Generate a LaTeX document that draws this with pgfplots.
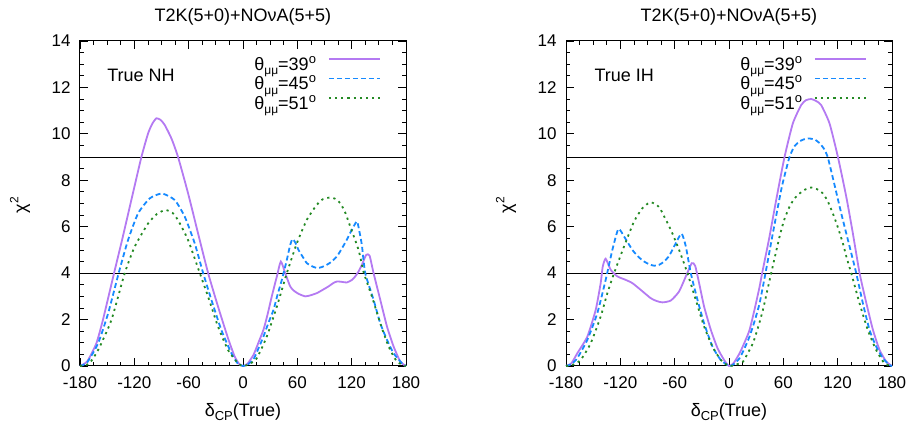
\documentclass[border=0pt]{standalone}
\usepackage{fontspec}
\setmainfont{Liberation Sans}
\usepackage{pgfplots}
\pgfplotsset{compat=1.18}

\definecolor{c39}{RGB}{180,122,242}
\definecolor{c45}{RGB}{22,138,255}
\definecolor{c51}{RGB}{36,138,36}

\newcommand{\thlab}[1]{θ\raisebox{-4.5pt}{\fontsize{12}{12}\selectfont μμ}=#1\raisebox{7pt}{\fontsize{13}{13}\selectfont o}}
\newcommand{\tfont}{\fontsize{17}{17}\selectfont}

\tikzset{txt/.style={inner sep=0pt, anchor=base west, font=\fontsize{18}{18}\selectfont}}

\pgfplotsset{
  chipanel/.style={
    width=326pt, height=325pt, scale only axis, clip=false,
    xmin=-180, xmax=180, ymin=0, ymax=14,
    xtick={-180,-120,...,180}, ytick={0,2,...,14},
    minor x tick num=3, minor y tick num=3,
    tick align=inside, tick pos=both,
    major tick length=8pt, minor tick length=4pt,
    every tick/.style={black, line width=0.8pt},
    axis line style={line width=1pt},
    /pgf/number format/assume math mode=true,
    xticklabel={\tfont\pgfmathprintnumber{\tick}},
    yticklabel={\tfont\pgfmathprintnumber{\tick}},
    yticklabel style={xshift=-6pt},
    xticklabel style={yshift=-7pt},
    xlabel={δ\raisebox{-4pt}{\fontsize{13}{13}\selectfont CP}(True)},
    xlabel style={at={(0.5,-0.154)}, anchor=base, font=\fontsize{18}{18}\selectfont},
    ylabel={χ\raisebox{8pt}{\fontsize{12}{12}\selectfont 2}},
    ylabel style={at={(-0.184,0.495)}, anchor=center, font=\fontsize{18}{18}\selectfont},
    legend plot pos=right,
    legend cell align=right,
    legend image code/.code={\draw[##1] (0pt,5pt) -- (51pt,5pt);},
    legend style={draw=none, fill=none, at={(0.9325,0.966)}, anchor=north east,
      font=\fontsize{18}{18}\selectfont, row sep=0pt,
      /tikz/every odd column/.append style={column sep=10pt}},
  },
  l39/.style={c39, line width=1.8pt, mark=none, smooth, tension=0.35},
  l45/.style={c45, line width=1.8pt, dash pattern=on 5pt off 3pt, mark=none, smooth, tension=0.35},
  l51/.style={c51, line width=1.8pt, dash pattern=on 2.2pt off 4pt, mark=none, smooth, tension=0.35},
  hline/.style={black, line width=1.1pt, mark=none, forget plot},
}

\begin{document}
\begin{tikzpicture}
\path[use as bounding box] (0,0) rectangle (916pt,425pt);

% ---- left panel: true NH
\begin{axis}[chipanel, at={(80pt,59pt)}, anchor=south west]
\addplot[hline] coordinates {(-180,4) (180,4)};
\addplot[hline] coordinates {(-180,9) (180,9)};
\addplot[l39] coordinates {
  (-180,0) (-172,0.2) (-162,0.97) (-154.6,2.0) (-142.4,4.0) (-133.6,5.42)
  (-123.3,7.15) (-112.2,9.0) (-104.8,10.02) (-100,10.45) (-95.6,10.67)
  (-91,10.6) (-86.4,10.38) (-79,9.8) (-71.7,9.0) (-60.6,7.43) (-49.6,5.71)
  (-38.5,4.0) (-27.5,2.55) (-16.4,1.18) (-9,0.39) (-4,0.08) (0,0)
  (5,0.1) (11.6,0.48) (17,1.0) (22.6,1.56) (27,2.2) (31.8,3.0) (37.4,3.86)
  (41.8,4.5) (46.6,4.0) (52.1,3.43) (56,3.25) (61.3,3.11) (68.7,3.0)
  (75,3.05) (81.6,3.14) (88,3.28) (94.5,3.43) (100,3.58) (103.7,3.64)
  (108,3.63) (114.7,3.6) (120,3.7) (124,3.86) (128,4.1) (131.3,4.36)
  (136.1,4.79) (139.8,4.75) (144.2,4.0) (151.6,2.85) (159,1.70)
  (166.3,0.84) (173.7,0.19) (180,0)
};
\addlegendentry{\thlab{39}}
\addplot[l45] coordinates {
  (-180,0) (-172,0.16) (-160.1,0.97) (-149,2.26) (-137.3,4.0) (-127,5.42)
  (-115.9,6.57) (-103,7.22) (-89.4,7.43) (-75.4,7.15) (-64.3,6.43)
  (-53.3,5.28) (-44,4.0) (-34.8,2.84) (-23.8,1.54) (-12.7,0.54) (-6,0.12)
  (0,0)
  (5,0.06) (11.6,0.29) (17,0.75) (22.6,1.27) (28,1.85) (33.7,2.42)
  (38,3.05) (42.9,3.71) (48.4,4.57) (52,5.2) (54.7,5.47) (58,5.3)
  (61.3,5.0) (66,4.7) (70.5,4.43) (76,4.3) (81.6,4.22) (87,4.26)
  (92.6,4.36) (98,4.5) (103.7,4.72) (109,5.05) (114.7,5.44) (120,5.85)
  (125.8,6.23) (128.5,5.8) (131.3,5.2) (135,4.0) (144.2,2.85)
  (151.6,1.84) (159,1.13) (166.3,0.55) (175.5,0.12) (180,0)
};
\addlegendentry{\thlab{45}}
\addplot[l51] coordinates {
  (-180,0) (-170,0.1) (-160.1,0.68) (-145.4,1.97) (-130.6,4.0)
  (-119.6,5.14) (-104.8,6.14) (-95,6.55) (-85.7,6.72) (-78,6.6)
  (-71.7,6.28) (-60.6,5.42) (-47.7,4.0) (-38.5,2.98) (-27.5,1.69)
  (-16.4,0.68) (-5.3,0.11) (0,0)
  (7,0.08) (15.3,0.34) (26.3,1.27) (37.4,2.56) (48.4,4.0) (59.5,5.29)
  (70.5,6.3) (81.6,6.95) (88,7.18) (96.3,7.26) (102,7.2) (107.4,7.02)
  (113,6.6) (118.4,6.01) (127.6,5.0) (133.5,4.0) (142.4,2.99)
  (151.6,1.84) (160.8,0.84) (170,0.19) (180,0)
};
\addlegendentry{\thlab{51}}
\node[txt] at (rel axis cs:0.083,0.875) {True NH};
\node[txt] at (rel axis cs:0.228,1.0615) {T2K(5+0)+NOνA(5+5)};
\end{axis}

% ---- right panel: true IH
\begin{axis}[chipanel, at={(566pt,59pt)}, anchor=south west]
\addplot[hline] coordinates {(-180,4) (180,4)};
\addplot[hline] coordinates {(-180,9) (180,9)};
\addplot[l39] coordinates {
  (-180,0) (-174,0.12) (-167.5,0.55) (-156.4,1.27) (-147.2,2.42)
  (-141.7,3.57) (-139.5,4.27) (-136.2,4.62) (-130.6,4.14) (-123.3,3.86)
  (-114.1,3.71) (-106.7,3.57) (-97.5,3.28) (-86.4,2.92) (-80,2.8)
  (-73.5,2.74) (-64.3,2.82) (-55.1,3.21) (-47.7,3.86) (-41.1,4.43)
  (-37.4,4.32) (-33,3.57) (-27.5,2.56) (-20.1,1.56) (-12.7,0.77)
  (-5.4,0.26) (0,0)
  (5,0.12) (11.6,0.54) (17,1.0) (22.6,1.54) (28,2.4) (33.7,3.4) (36.6,4.0)
  (44.7,5.57) (52.1,7.15) (61.3,9.0) (70.5,10.45) (79.7,11.24) (85,11.45)
  (90.8,11.5) (96,11.42) (101.8,11.24) (111,10.45) (120.3,9.0)
  (129.5,7.29) (136.8,5.71) (144.2,4.0) (151.6,2.72) (159,1.55)
  (166.3,0.69) (173.7,0.19) (180,0)
};
\addlegendentry{\thlab{39}}
\addplot[l45] coordinates {
  (-180,0) (-174,0.08) (-167.5,0.34) (-156.4,1.13) (-145.4,2.28)
  (-136.2,3.71) (-128.8,5.0) (-122.2,5.9) (-115.9,5.58) (-106.7,5.0)
  (-100,4.7) (-93.8,4.5) (-88,4.38) (-82.7,4.32) (-77,4.36) (-71.7,4.5)
  (-66,4.75) (-60.6,5.15) (-52.5,5.70) (-47.7,5.15) (-42.2,4.0)
  (-34.8,2.85) (-27.5,1.84) (-18.3,0.84) (-9.1,0.26) (0,0)
  (5,0.07) (11.6,0.33) (17,0.75) (22.6,1.26) (28,1.9) (33.7,2.69)
  (40.3,4.0) (48.4,5.71) (57.6,7.58) (62,8.3) (66.8,9.0) (72,9.45)
  (78,9.68) (84,9.78) (89,9.8) (95,9.75) (100,9.6) (105,9.35) (109,9.0)
  (114.7,8.1) (124,6.57) (133.2,5.14) (140.5,4.0) (147.9,2.69)
  (155.3,1.54) (162.6,0.83) (170,0.33) (177.4,0.04) (180,0)
};
\addlegendentry{\thlab{45}}
\addplot[l51] coordinates {
  (-180,0) (-172,0.06) (-163.8,0.26) (-152.7,0.98) (-141.7,2.13)
  (-134.3,3.14) (-126.9,4.0) (-115.9,5.15) (-104.8,6.23) (-95.6,6.8)
  (-87.2,7.05) (-80,6.95) (-75.4,6.73) (-64.3,5.87) (-55.1,5.0)
  (-45.9,4.0) (-36.7,2.85) (-27.5,1.70) (-18.3,0.84) (-9.1,0.26) (0,0)
  (7,0.05) (15.3,0.18) (20,0.5) (26.3,0.97) (32,1.65) (37.4,2.41)
  (42,3.2) (46.6,4.0) (55.8,5.57) (61,6.3) (66.8,6.86) (72,7.2)
  (77.9,7.43) (84,7.6) (90.8,7.69) (97,7.62) (103.7,7.43) (109,7.1)
  (114.7,6.57) (120,6.0) (125.8,5.28) (130,4.65) (135,4.0) (144.2,2.69)
  (153.4,1.54) (162.6,0.68) (171.8,0.11) (180,0)
};
\addlegendentry{\thlab{51}}
\node[txt] at (rel axis cs:0.087,0.875) {True IH};
\node[txt] at (rel axis cs:0.228,1.0615) {T2K(5+0)+NOνA(5+5)};
\end{axis}
\end{tikzpicture}
\end{document}
